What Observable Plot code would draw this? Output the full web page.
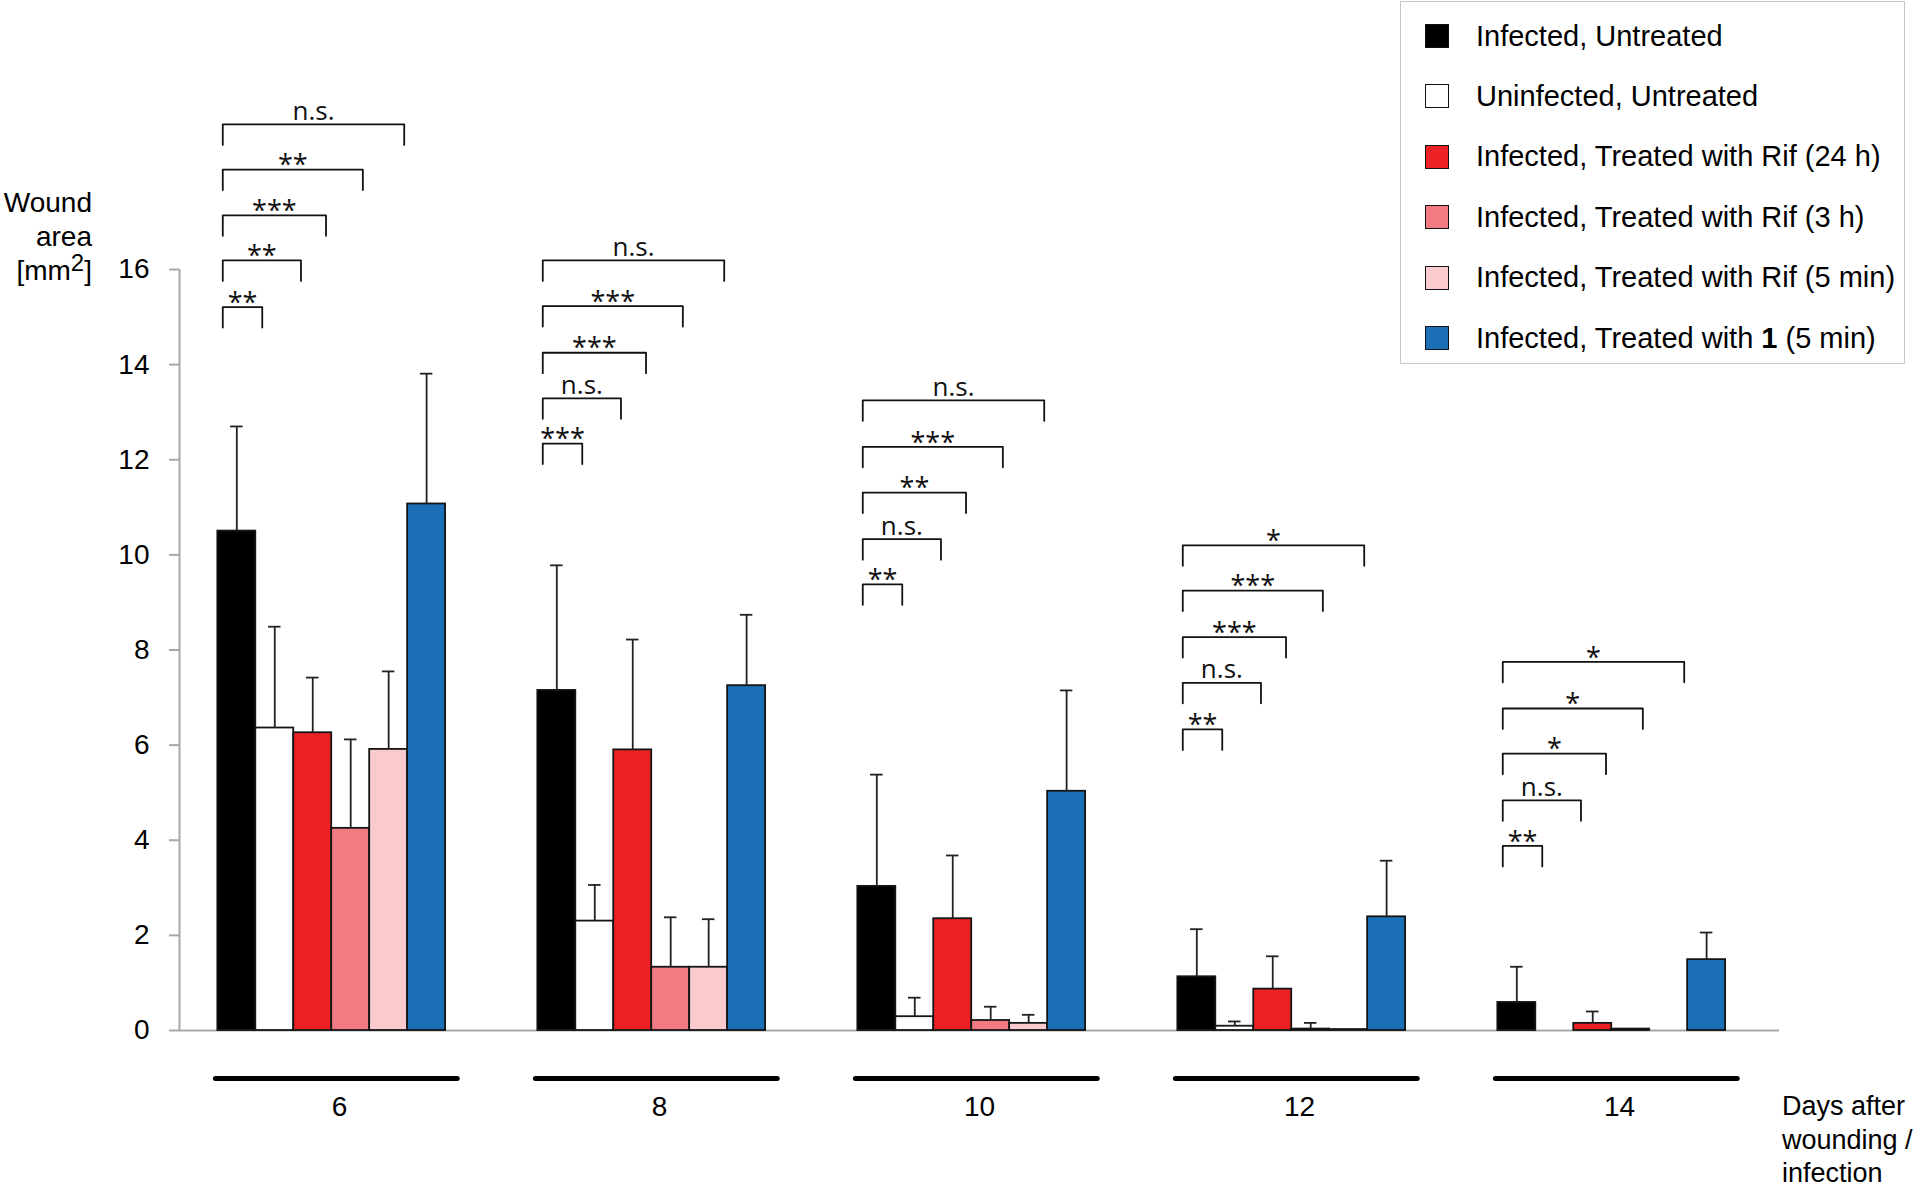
<!DOCTYPE html>
<html>
<head>
<meta charset="utf-8">
<script src="https://cdn.jsdelivr.net/npm/d3@7"></script>
<script src="https://cdn.jsdelivr.net/npm/@observablehq/plot@0.6"></script>
<style>
  body { margin: 0; background: #fff; }
  #wrap { position: relative; width: 1924px; height: 1187px; font-family: "Liberation Sans", Arial, sans-serif; color: #000; }
  #chart { position: absolute; left: 0; top: 0; }
  #ytitle { position: absolute; right: 1832px; top: 186px; text-align: right; font-size: 28px; line-height: 34px; white-space: nowrap; }
  #ytitle sup { font-size: 24px; vertical-align: 9px; line-height: 0; }
  #xtitle { position: absolute; left: 1782px; top: 1090px; font-size: 27px; line-height: 33.5px; white-space: nowrap; }
  #legend { position: absolute; left: 1400px; top: 1px; width: 503px; height: 361px; border: 1.5px solid #c8c8c8; background: #fff; }
  .row { position: absolute; left: 0; height: 30px; display: flex; align-items: center; white-space: nowrap; font-size: 29px; }
  .sw { width: 22px; height: 22px; border: 1.6px solid #111; margin-left: 24px; margin-right: 27px; }
</style>
</head>
<body>
<div id="wrap">
  <div id="chart"></div>
  <div id="ytitle">Wound<br>area<br>[mm<sup>2</sup>]</div>
  <div id="xtitle">Days after<br>wounding /<br>infection</div>
  <div id="legend"></div>
</div>
<script>
// ---- data ----
const days = [6, 8, 10, 12, 14];
const groups = [
  "Infected, Untreated",
  "Uninfected, Untreated",
  "Infected, Treated with Rif (24 h)",
  "Infected, Treated with Rif (3 h)",
  "Infected, Treated with Rif (5 min)",
  "Infected, Treated with 1 (5 min)"
];
const colors = ["#000000", "#ffffff", "#ed2024", "#f27b83", "#f9cbce", "#1b6fb7"];
// mean wound area [mm2], rows = days, columns = groups
const means = [
  [10.50, 6.36, 6.26, 4.25, 5.91, 11.07],
  [7.15, 2.30, 5.90, 1.33, 1.33, 7.25],
  [3.03, 0.29, 2.35, 0.21, 0.15, 5.03],
  [1.13, 0.09, 0.87, 0.03, 0.02, 2.39],
  [0.59, null, 0.15, 0.03, null, 1.49]
];
// upper error (SD)
const errors = [
  [2.20, 2.13, 1.16, 1.87, 1.64, 2.74],
  [2.63, 0.76, 2.32, 1.05, 1.01, 1.49],
  [2.35, 0.40, 1.33, 0.29, 0.18, 2.12],
  [1.00, 0.10, 0.69, 0.13, null, 1.18],
  [0.75, null, 0.25, null, null, 0.57]
];
// significance brackets: Infected, Untreated vs groups 2..6 (bottom to top)
const bracketLabels = [
  ["**", "**", "***", "**", "n.s."],
  ["***", "n.s.", "***", "***", "n.s."],
  ["**", "n.s.", "**", "***", "n.s."],
  ["**", "n.s.", "***", "***", "*"],
  ["**", "n.s.", "*", "*", "*"]
];
const bracketLevels = [
  [15.21, 16.19, 17.14, 18.10, 19.05],
  [12.34, 13.29, 14.25, 15.23, 16.19],
  [9.38, 10.33, 11.31, 12.27, 13.25],
  [6.33, 7.31, 8.27, 9.25, 10.20],
  [3.88, 4.84, 5.82, 6.77, 7.75]
];
const bracketStart = 0.13;
const bracketEnds = [1.17, 2.19, 2.85, 3.82, 4.91];
const yTicks = [0, 2, 4, 6, 8, 10, 12, 14, 16];

// ---- tables ----
const bars = [];
days.forEach((day, di) => groups.forEach((g, gi) => {
  bars.push({day, group: g, i: gi, mean: means[di][gi], sd: errors[di][gi]});
}));
const shown = bars.filter(d => d.mean != null);
const withErr = bars.filter(d => d.mean != null && d.sd != null);
const brackets = [];
days.forEach((day, di) => bracketLabels[di].forEach((label, k) => {
  brackets.push({day, label, level: bracketLevels[di][k], x1: bracketStart, x2: bracketEnds[k], id: day + "-" + k});
}));
const bracketPts = brackets.flatMap(b => [
  {id: b.id, day: b.day, x: b.x1, y: b.level - 0.43},
  {id: b.id, day: b.day, x: b.x1, y: b.level},
  {id: b.id, day: b.day, x: b.x2, y: b.level},
  {id: b.id, day: b.day, x: b.x2, y: b.level - 0.43}
]);
const capHalf = 0.165;
const axisGray = "#a8a8a8";

const chart = Plot.plot({
  width: 1924,
  height: 1187,
  marginLeft: 179,
  marginRight: 145,
  marginTop: 269,
  marginBottom: 157,
  style: {fontFamily: "'Liberation Sans', Arial, sans-serif", color: "#000", background: "transparent"},
  fx: {domain: days, padding: 0, label: null},
  x: {domain: [-1.01, 7.42], axis: null},
  y: {domain: [0, 16], label: null},
  color: {domain: groups, range: colors},
  marks: [
    Plot.ruleY([0], {stroke: axisGray, strokeWidth: 2}),
    Plot.ruleX([{day: days[0]}], {fx: "day", x: -1.01, y1: 0, y2: 16, stroke: axisGray, strokeWidth: 2}),
    Plot.axisY({ticks: yTicks, tickSize: 10, tickPadding: 20, stroke: axisGray, strokeWidth: 2, fill: "#000", fontSize: 28, label: null}),
    Plot.axisFx({anchor: "bottom", tickSize: 0, tickPadding: 66, fontSize: 28, fill: "#000", label: null}),
    Plot.ruleY(days.map(day => ({day})), {fx: "day", y: 0, x1: -0.05, x2: groups.length + 0.32, dy: 48, stroke: "#000", strokeWidth: 5, strokeLinecap: "round"}),
    Plot.rectY(shown, {fx: "day", x1: "i", x2: d => d.i + 1, y1: 0, y2: "mean", fill: "group", stroke: "#151515", strokeWidth: 1.8}),
    Plot.ruleX(withErr, {fx: "day", x: d => d.i + 0.5, y1: "mean", y2: d => d.mean + d.sd, stroke: "#222", strokeWidth: 1.8}),
    Plot.ruleY(withErr, {fx: "day", y: d => d.mean + d.sd, x1: d => d.i + 0.5 - capHalf, x2: d => d.i + 0.5 + capHalf, stroke: "#222", strokeWidth: 1.8}),
    Plot.line(bracketPts, {fx: "day", x: "x", y: "y", z: "id", stroke: "#111", strokeWidth: 1.8, curve: "linear"}),
    Plot.text(brackets.filter(b => b.label === "n.s."), {fx: "day", x: b => (b.x1 + b.x2) / 2, y: "level", text: "label", dy: -13, fontSize: 26, fontFamily: "'Open Sans', sans-serif", fill: "#111"}),
    Plot.text(brackets.filter(b => b.label !== "n.s."), {fx: "day", x: b => (b.x1 + b.x2) / 2, y: "level", text: "label", dy: -4, fontSize: 27, fontFamily: "'Open Sans', sans-serif", fill: "#111"})
  ]
});
document.getElementById("chart").appendChild(chart);

// ---- legend ----
const legend = document.getElementById("legend");
groups.forEach((g, i) => {
  const row = document.createElement("div");
  row.className = "row";
  row.style.top = (19 + i * 60.4) + "px";
  const sw = document.createElement("div");
  sw.className = "sw";
  sw.style.background = colors[i];
  const label = document.createElement("span");
  const m = g.match(/^(.*with )1( .*)$/);
  if (m) {
    label.append(m[1]);
    const b = document.createElement("b");
    b.textContent = "1";
    label.append(b, m[2]);
  } else {
    label.textContent = g;
  }
  row.append(sw, label);
  legend.appendChild(row);
});
</script>
</body>
</html>
